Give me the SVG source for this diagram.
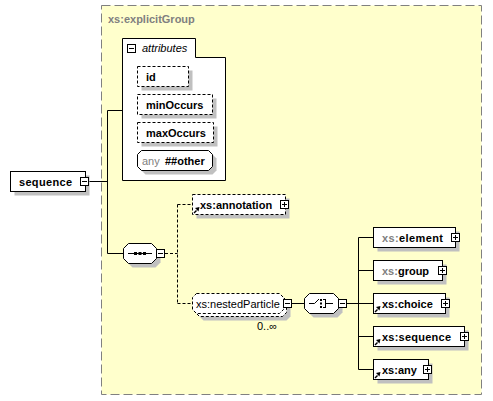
<svg xmlns="http://www.w3.org/2000/svg" xmlns:xlink="http://www.w3.org/1999/xlink" width="493" height="401" viewBox="0 0 493 401">
<style>
.t{font-family:"Liberation Sans",Arial,sans-serif;font-size:11px;fill:#000}
.b{font-weight:bold}
.g{fill:#808080}
.i{font-style:italic}
.box{fill:#fff;stroke:#000;stroke-width:1}
.dbox{fill:#fff;stroke:#000;stroke-width:1;stroke-dasharray:3,2}
.sh{fill:#c0c0c0}
.ln{stroke:#000;stroke-width:1;fill:none}
.dl{stroke:#000;stroke-width:1;fill:none;stroke-dasharray:3,2}
</style>
<defs>
<g id="plus"><rect x="0.5" y="0.5" width="8" height="8" fill="#fff" stroke="#000"/><path d="M2,4.5H7M4.5,2V7" stroke="#000" fill="none"/></g>
<g id="minus"><rect x="0.5" y="0.5" width="8" height="8" fill="#fff" stroke="#000"/><path d="M2,4.5H7" stroke="#000" fill="none"/></g>
<g id="ref"><path d="M1.5,-1.5L4,-4" stroke="#000" stroke-width="1.5" fill="none"/><polygon points="7,-7.5 2.5,-6.5 6,-3" fill="#000"/></g>
</defs>

<g id="explicitGroup">
<rect x="101.5" y="5.5" width="380" height="389" fill="#ffffcc" stroke="#808080" stroke-dasharray="9,4"/>
<text class="t b g" x="108" y="23">xs:explicitGroup</text>
</g>

<g id="connectors">
<path class="ln" d="M89,181.5H107.5M107.5,110.5V253.5M107.5,110.5H122M107.5,253.5H123"/>
<path class="dl" d="M165,253.5H177.5M177.5,204.5V303.5M177.5,204.5H192M177.5,303.5H192"/>
<path class="ln" d="M292,303.5H304M347,303.5H358.5M358.5,237.5V369.5M358.5,237.5H373M358.5,270.5H373M358.5,303.5H373M358.5,336.5H373M358.5,369.5H373"/>
</g>

<g id="attributes">
<path class="box" d="M122.5,38.5H195.5V57.5H225.5V180.5H122.5Z"/>
<use xlink:href="#minus" x="127" y="44"/>
<text class="t i" x="142" y="52">attributes</text>
</g>

<g id="attr-id">
<rect class="sh" x="141.5" y="70.5" width="51" height="20"/>
<rect class="dbox" x="137.5" y="66.5" width="51" height="20"/>
<text class="t b" x="146" y="80.5">id</text>
</g>
<g id="attr-minOccurs">
<rect class="sh" x="141.5" y="98.5" width="75" height="20"/>
<rect class="dbox" x="137.5" y="94.5" width="75" height="20"/>
<text class="t b" x="146" y="108.5">minOccurs</text>
</g>
<g id="attr-maxOccurs">
<rect class="sh" x="141.5" y="126.5" width="76" height="20"/>
<rect class="dbox" x="137.5" y="122.5" width="76" height="20"/>
<text class="t b" x="146" y="136.5">maxOccurs</text>
</g>
<g id="attr-any">
<polygon class="sh" points="145.5,154.5 212.5,154.5 216.5,158.5 216.5,170.5 212.5,174.5 145.5,174.5 141.5,170.5 141.5,158.5"/>
<polygon class="box" points="141.5,150.5 208.5,150.5 212.5,154.5 212.5,166.5 208.5,170.5 141.5,170.5 137.5,166.5 137.5,154.5"/>
<text class="t g" x="142" y="164.5">any</text>
<text class="t b" x="165" y="164.5">##other</text>
</g>

<g id="sequence">
<rect class="sh" x="14.5" y="175.5" width="75" height="20"/>
<rect class="box" x="10.5" y="171.5" width="75" height="20"/>
<text class="t b" x="19" y="185.5" textLength="53" lengthAdjust="spacing">sequence</text>
<use xlink:href="#minus" x="80" y="177"/>
</g>

<g id="seq-compositor">
<polygon class="sh" points="132.5,247.5 155.5,247.5 160.5,252.5 160.5,262.5 155.5,267.5 132.5,267.5 127.5,262.5 127.5,252.5"/>
<polygon class="box" points="128.5,243.5 151.5,243.5 156.5,248.5 156.5,258.5 151.5,263.5 128.5,263.5 123.5,258.5 123.5,248.5"/>
<path class="ln" d="M128,253.5H152"/>
<rect x="134" y="252" width="3" height="3" fill="#000"/>
<rect x="138.5" y="252" width="3" height="3" fill="#000"/>
<rect x="143" y="252" width="3" height="3" fill="#000"/>
<use xlink:href="#minus" x="156" y="249"/>
</g>

<g id="annotation">
<rect class="sh" x="196.5" y="198.5" width="93" height="20"/>
<rect class="dbox" x="192.5" y="194.5" width="93" height="20"/>
<use xlink:href="#ref" x="192.5" y="214.5"/>
<text class="t b" x="200" y="208.5">xs:annotation</text>
<use xlink:href="#plus" x="280" y="200"/>
</g>

<g id="nestedParticle">
<polygon class="sh" points="203.5,300.5 286.5,300.5 290.5,304.5 290.5,316.5 286.5,320.5 203.5,320.5 199.5,316.5 199.5,304.5"/>
<polygon class="dbox" points="199.5,296.5 282.5,296.5 286.5,300.5 286.5,312.5 282.5,316.5 199.5,316.5 195.5,312.5 195.5,300.5"/>
<polygon class="dbox" points="196.5,293.5 279.5,293.5 283.5,297.5 283.5,309.5 279.5,313.5 196.5,313.5 192.5,309.5 192.5,297.5"/>
<text class="t" x="196" y="307.5">xs:nestedParticle</text>
<use xlink:href="#minus" x="283" y="299"/>
<text class="t" x="257" y="330">0..∞</text>
</g>

<g id="choice-compositor">
<polygon class="sh" points="313.5,297.5 337.5,297.5 342.5,302.5 342.5,312.5 337.5,317.5 313.5,317.5 308.5,312.5 308.5,302.5"/>
<polygon class="box" points="309.5,293.5 333.5,293.5 338.5,298.5 338.5,308.5 333.5,313.5 309.5,313.5 304.5,308.5 304.5,298.5"/>
<path class="ln" d="M309,303.5H314.5L319,299M325.5,299V308M323,299.5H325.5M323,307.5H325.5M325.5,303.5H333"/>
<rect x="320" y="299" width="2" height="2" fill="#000"/>
<rect x="320" y="302.5" width="2" height="2" fill="#000"/>
<rect x="320" y="306" width="2" height="2" fill="#000"/>
<use xlink:href="#minus" x="338" y="299"/>
</g>

<g id="element">
<rect class="sh" x="377.5" y="231.5" width="82" height="20"/>
<rect class="box" x="373.5" y="227.5" width="82" height="20"/>
<text class="t b" x="382" y="241.5" textLength="61" lengthAdjust="spacing"><tspan class="g">xs:</tspan>element</text>
<use xlink:href="#plus" x="451" y="233"/>
</g>
<g id="group">
<rect class="sh" x="377.5" y="264.5" width="69" height="20"/>
<rect class="box" x="373.5" y="260.5" width="69" height="20"/>
<text class="t b" x="382" y="274.5"><tspan class="g">xs:</tspan>group</text>
<use xlink:href="#plus" x="438" y="266"/>
</g>
<g id="choice">
<rect class="sh" x="377.5" y="297.5" width="72" height="20"/>
<rect class="box" x="373.5" y="293.5" width="72" height="20"/>
<use xlink:href="#ref" x="373.5" y="313.5"/>
<text class="t b" x="382" y="307.5">xs:choice</text>
<use xlink:href="#plus" x="441" y="299"/>
</g>
<g id="sequence-ref">
<rect class="sh" x="377.5" y="330.5" width="91" height="20"/>
<rect class="box" x="373.5" y="326.5" width="91" height="20"/>
<use xlink:href="#ref" x="373.5" y="346.5"/>
<text class="t b" x="382" y="340.5" textLength="69" lengthAdjust="spacing">xs:sequence</text>
<use xlink:href="#plus" x="460" y="332"/>
</g>
<g id="any">
<rect class="sh" x="377.5" y="363.5" width="55" height="20"/>
<rect class="box" x="373.5" y="359.5" width="55" height="20"/>
<use xlink:href="#ref" x="373.5" y="379.5"/>
<text class="t b" x="382" y="373.5">xs:any</text>
<use xlink:href="#plus" x="423" y="365"/>
</g>
</svg>
